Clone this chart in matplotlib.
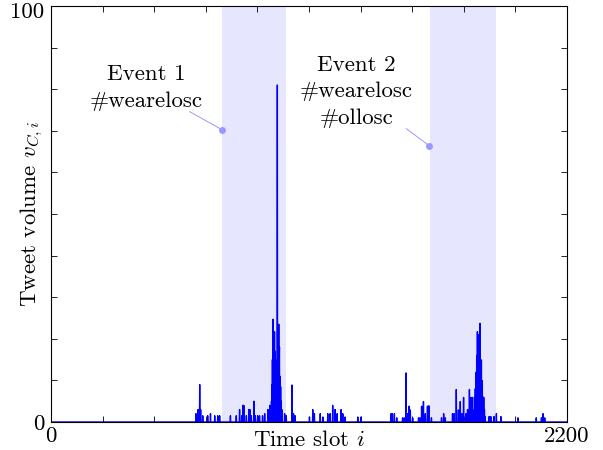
import numpy as np
import matplotlib
matplotlib.use("Agg")
import matplotlib.pyplot as plt
from matplotlib.ticker import FixedLocator, FuncFormatter
from matplotlib.transforms import ScaledTranslation

plt.rcParams['font.family'] = 'serif'
plt.rcParams['font.serif'] = ['cmr10']
plt.rcParams['mathtext.fontset'] = 'cm'
plt.rcParams['axes.formatter.use_mathtext'] = True

n_slots = 2200
# (time slot, tweet volume) pairs of the non-zero slots
spike_slots = [618, 627, 634, 638, 647, 668, 680, 698, 711, 719,
               765, 790, 804, 813, 818, 822, 833, 844, 848, 854, 865, 871,
               881, 889, 902, 911, 925, 933, 939,
               940, 942, 944, 946, 947, 949, 950, 952, 953, 955, 957, 959, 961, 963,
               965, 967, 969, 971, 973, 974, 976, 977, 979, 981, 984, 996, 1003,
               1028, 1034, 1041,
               1102, 1116, 1123, 1148, 1159, 1180, 1190, 1201, 1211, 1220, 1237, 1244, 1254,
               1308, 1322,
               1450, 1455, 1464, 1474, 1499, 1506, 1514, 1520, 1526, 1532, 1542,
               1567, 1573, 1580, 1588, 1596, 1605, 1611, 1622, 1665, 1674, 1681,
               1712, 1719, 1728, 1737, 1745, 1752, 1759, 1769, 1776, 1784,
               1790, 1797, 1804, 1806, 1809, 1811, 1813, 1815, 1818, 1820, 1822, 1824,
               1826, 1829, 1831, 1833, 1835, 1837, 1839, 1842, 1845, 1848, 1851,
               1868, 1875, 1889, 1899, 1918,
               1991, 2069, 2091, 2098, 2105]
spike_values = [2, 3, 9, 3, 1.5, 1.5, 2, 1.5, 1.5, 1.5,
                1.5, 1.5, 3, 1.5, 4, 4, 1.5, 3, 3, 1.5, 5, 1.5,
                1.5, 1.5, 1.5, 2, 3, 4, 2,
                5, 9, 15, 24.7, 16, 14, 10, 6, 21.7, 17, 12, 13.7, 9, 15,
                81, 20, 10, 23.5, 15, 18, 11, 9, 8.5, 5, 3, 2, 1.5,
                8.9, 2, 1.5,
                1.2, 3, 2, 2, 1.2, 2, 2, 4, 3, 2, 3, 2, 1.2,
                1.2, 1.2,
                2, 2, 2, 1, 1, 1, 11.8, 2, 3.8, 2.9, 1,
                1, 1, 3.8, 4.9, 2, 3.8, 3.9, 1, 1, 2, 1,
                2, 2, 7.8, 2.9, 4.9, 2, 5.9, 2, 3, 7.8,
                5.9, 5.9, 2.9, 6, 8, 9.9, 12, 16, 21.7, 14, 21, 12,
                17, 23.7, 15, 11, 14.9, 8, 9.9, 6, 5.9, 3, 1.3,
                1.3, 1.3, 1.3, 2, 1.3,
                1, 1, 1, 2, 1]

event_spans = [(728, 1000), (1617, 1898)]
event_labels = ["Event 1\n#wearelosc", "Event 2\n#wearelosc\n#ollosc"]
event_text_pos = [(408, 80.3), (1302, 79.4)]
event_points = [(728, 70.3), (1613, 66.4)]
event_line_start = [(591, 74.6), (1515, 70.5)]

volume = np.zeros(n_slots)
for s, v in zip(spike_slots, spike_values):
    volume[s] = v
slots = np.arange(n_slots)

FS = 16.5

fig = plt.figure(figsize=(6.03, 4.5), dpi=100)
ax = fig.add_axes([51/603, 1-422/450, 516/603, 416/450])

for (a, b) in event_spans:
    ax.axvspan(a, b, color='#e6e6ff', lw=0, zorder=0)

ax.plot(slots, volume, color='#0000ff', lw=1.0, zorder=2)

for lab, (tx, ty), (px, py), (lx, ly) in zip(event_labels, event_text_pos, event_points, event_line_start):
    ax.text(tx, ty, lab, ha='center', va='center', fontsize=FS, linespacing=1.45)
    ax.plot([lx, px], [ly, py], color='#9999ff', lw=0.7, zorder=3)
    ax.plot([px], [py], 'o', color='#9999ff', ms=5, mec='none', zorder=3)

ax.set_xlim(0, 2200)
ax.set_ylim(0, 100)
ax.xaxis.set_major_locator(FixedLocator(np.arange(0, 2201, 220)))
ax.yaxis.set_major_locator(FixedLocator(np.arange(0, 101, 10)))
ax.xaxis.set_major_formatter(FuncFormatter(lambda v, p: f"{int(round(v))}" if round(v) in (0, 2200) else ""))
ax.yaxis.set_major_formatter(FuncFormatter(lambda v, p: f"{int(round(v))}" if round(v) in (0, 100) else ""))
ax.tick_params(direction='in', top=True, right=True, length=4, width=0.6, labelsize=FS)
ax.tick_params(axis='y', pad=5)
ax.tick_params(axis='x', pad=3)
for sp in ax.spines.values():
    sp.set_linewidth(0.8)

fig.canvas.draw()
ylabels = ax.yaxis.get_ticklabels()
ylabels[-1].set_transform(ylabels[-1].get_transform() + ScaledTranslation(0, -4/100, fig.dpi_scale_trans))

ax.set_xlabel("Time slot $i$", fontsize=FS)
ax.xaxis.set_label_coords(0.5, -0.02)
ax.set_ylabel("Tweet volume $v_{C,i}$", fontsize=FS)
ax.yaxis.set_label_coords(-0.012, 0.5)

fig.savefig("out.png", dpi=100)
